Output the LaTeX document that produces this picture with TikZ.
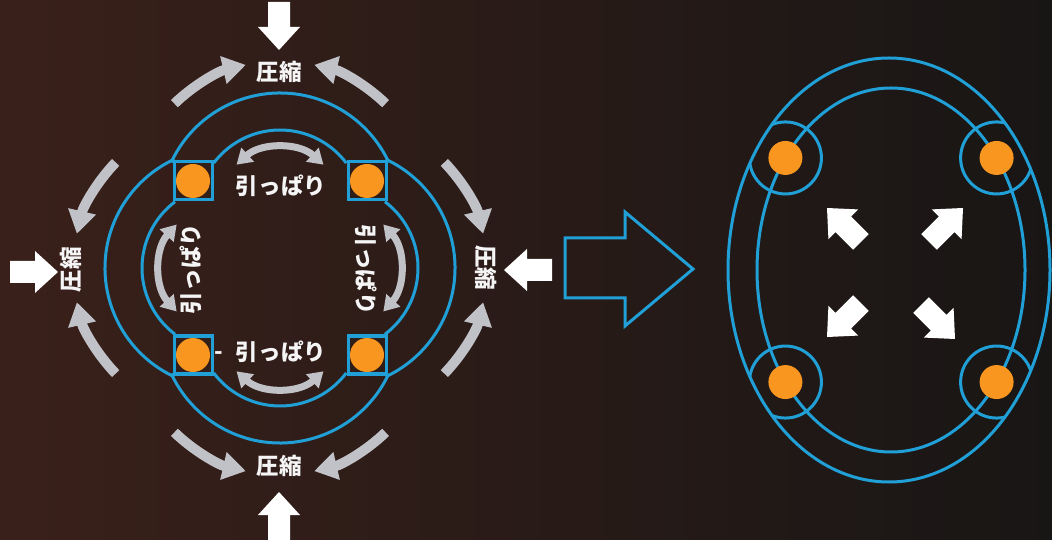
\documentclass[tikz,border=0pt]{standalone}
\usepackage{fontspec}
\newfontfamily\jpfont{Noto Sans CJK JP}
\usetikzlibrary{arrows.meta}

\definecolor{ringblue}{RGB}{32,160,214}
\definecolor{hingeorange}{RGB}{248,150,32}
\definecolor{forcegray}{RGB}{192,194,200}
\definecolor{bgleft}{RGB}{58,32,26}
\definecolor{bgright}{RGB}{24,22,21}

\tikzset{
	pics/push/.style={code={
		\fill[white] (0,0) -- (-23,-21) -- (-23,-11) -- (-48,-11) -- (-48,11) -- (-23,11) -- (-23,21) -- cycle;
	}}
}

\begin{document}
\begin{tikzpicture}[
		x=0.01cm, y=-0.01cm,
		ringline/.style={ringblue, line width=0.3mm},
		squeeze/.style={forcegray, line width=1mm, -{Triangle[width=2.7mm,length=2.3mm]}},
		pull/.style={forcegray, line width=0.7mm, {Triangle[width=1.8mm,length=1.5mm]}-{Triangle[width=1.8mm,length=1.5mm]}},
		lbl/.style={text=white!92!gray, font=\jpfont\bfseries\fontsize{6.4}{7}\selectfont, inner sep=0pt}
	]

		\useasboundingbox (0,0) rectangle (1052,540);
		\shade[left color=bgleft, right color=bgright] (0,0) rectangle (1052,540);

		%ring before: four lobes with hinges
		\foreach \r in {0,90,180,270} {
			\begin{scope}[shift={(280,268)}, rotate=\r]
				\draw[ringline] (0,-55) ++(205:120) arc[start angle=205, end angle=335, radius=120];
				\draw[ringline] (0,-55) ++(217:83) arc[start angle=217, end angle=323, radius=83];
				\draw[squeeze] (0,-55) ++(226:152) arc[start angle=226, end angle=257, radius=152];
				\draw[squeeze] (0,-55) ++(314:152) arc[start angle=314, end angle=283, radius=152];
				\draw[pull] (0,-55) ++(228:65) arc[start angle=228, end angle=312, radius=65];
				\draw[ringline] (-106,-106) rectangle (-68,-68);
				\fill[hingeorange] (-87,-87) circle[radius=17];
			\end{scope}
		}

		% labels
		\node[lbl] (squeezeN) at (279,72) {圧縮};
		\node[lbl] (squeezeS) at (279,466) {圧縮};
		\node[lbl, rotate=90] (squeezeW) at (71,270) {圧縮};
		\node[lbl, rotate=-90] (squeezeE) at (486,268) {圧縮};
		\node[lbl] (pullN) at (281,186) {引っぱり};
		\node[lbl] (pullS) at (281,352) {引っぱり};
		\node[lbl, rotate=90] (pullW) at (191,269) {引っぱり};
		\node[lbl, rotate=-90] (pullE) at (366,270) {引っぱり};
		\node[lbl] (dash) at (219,356) {-};

		% outside loads
		\pic[rotate=-90] at (279,50) {push};
		\pic[rotate=90] at (279,492) {push};
		\pic at (58,272) {push};
		\pic[rotate=180] at (504,270) {push};

		%transition
		\draw[ringline, line join=miter] (565,238) -- (625,238) -- (625,212) -- (693,269) -- (625,326) -- (625,298) -- (565,298) -- cycle;

		%ring after: oval
		\draw[ringline] (889,270) ellipse[x radius=161, y radius=212];
		\draw[ringline] (891,270) ellipse[x radius=134, y radius=182];
		\begin{scope}
			\clip (889,270) ellipse[x radius=161, y radius=212];
			\foreach \a in {38,142,218,322}
				\draw[ringline] (891,270) ++(\a:134 and 182) circle[radius=36];
		\end{scope}
		\foreach \a in {38,142,218,322}
			\fill[hingeorange] (891,270) ++(\a:134 and 182) circle[radius=17];

		\pic[rotate=135] at (827,208) {push};
		\pic[rotate=45] at (963,208) {push};
		\pic[rotate=-135] at (827,337) {push};
		\pic[rotate=-45] at (955,339) {push};
	\end{tikzpicture}
\end{document}
